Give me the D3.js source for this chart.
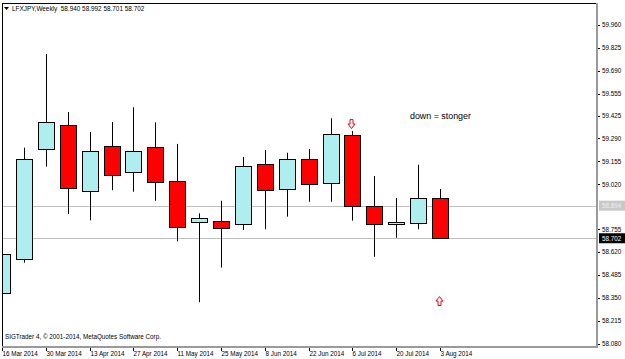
<!DOCTYPE html>
<html>
<head>
<meta charset="utf-8">
<script src="https://cdn.jsdelivr.net/npm/d3@7"></script>
<style>
  body { margin: 0; background: #fff; }
  svg { display: block; }
  text { font-family: "Liberation Sans", Arial, sans-serif; }
</style>
</head>
<body>
<svg id="chart"></svg>
<script>
// weekly bars, LFXJPY
const weeks = ["16 Mar 2014", "23 Mar 2014", "30 Mar 2014", "6 Apr 2014", "13 Apr 2014", "20 Apr 2014",
    "27 Apr 2014", "4 May 2014", "11 May 2014", "18 May 2014", "25 May 2014", "1 Jun 2014", "8 Jun 2014",
    "15 Jun 2014", "22 Jun 2014", "29 Jun 2014", "6 Jul 2014", "13 Jul 2014", "20 Jul 2014", "27 Jul 2014",
    "3 Aug 2014"];
const opens  = [58.378, 58.578, 59.226, 59.368, 58.982, 59.244, 59.091, 59.238, 59.038, 58.796, 58.806,
    58.784, 59.141, 58.991, 59.167, 59.024, 59.311, 58.892, 58.784, 58.792, 58.940];
const highs  = [58.829, 59.236, 59.788, 59.446, 59.328, 59.387, 59.474, 59.385, 59.258, 58.849, 58.923,
    59.181, 59.222, 59.206, 59.228, 59.409, 59.334, 59.069, 58.939, 59.135, 58.992];
const lows   = [58.372, 58.558, 59.124, 58.845, 58.808, 58.985, 58.976, 58.923, 58.684, 58.325, 58.529,
    58.751, 58.755, 58.829, 58.917, 58.917, 58.806, 58.593, 58.705, 58.755, 58.701];
const closes = [58.607, 59.167, 59.385, 58.996, 59.215, 59.071, 59.215, 59.032, 58.767, 58.820, 58.767,
    59.126, 58.985, 59.167, 59.020, 59.315, 58.894, 58.784, 58.796, 58.937, 58.702];

const priceTicks = [59.960, 59.825, 59.690, 59.555, 59.425, 59.290, 59.155, 59.020,
    58.755, 58.620, 58.485, 58.350, 58.215, 58.080];
const dateTickIdx = [0, 2, 4, 6, 8, 10, 12, 14, 16, 18, 20];
const hLines = [58.894, 58.702];

// arrow objects: [bar index, price, direction]
const arrows = [[16, 59.375, "down"], [20, 58.332, "up"]];

const title = "LFXJPY,Weekly  58.940 58.992 58.701 58.702";
const note = "down = stonger";
const copyright = "SIGTrader 4, \u00a9 2001-2014, MetaQuotes Software Corp.";

const W = 625, H = 359;
const frame = { left: 2, top: 3, right: 597, bottom: 347 };

const svg = d3.select("#chart").attr("width", W).attr("height", H);

const x = d3.scaleLinear().domain([0, 20]).range([2, 440]);
const y = d3.scaleLinear().domain([58.080, 59.960]).range([343.8, 24.8]);

const bars = weeks.map((w, i) => ({ w, i, o: opens[i], h: highs[i], l: lows[i], c: closes[i] }));

svg.append("defs").append("clipPath").attr("id", "plot")
    .append("rect")
    .attr("x", frame.left + 0.5).attr("y", frame.top)
    .attr("width", frame.right - frame.left - 0.5).attr("height", frame.bottom - frame.top);

const plot = svg.append("g").attr("clip-path", "url(#plot)");

// price lines
plot.selectAll("line.hl")
    .data(hLines)
    .join("line")
    .attr("class", "hl")
    .attr("x1", frame.left).attr("x2", frame.right)
    .attr("y1", d => Math.round(y(d)) + 0.5).attr("y2", d => Math.round(y(d)) + 0.5)
    .attr("stroke", "#c0c0c0").attr("stroke-width", 1);

const px = v => Math.round(v) + 0.5;

// wicks
plot.selectAll("line.wick")
    .data(bars)
    .join("line")
    .attr("class", "wick")
    .attr("x1", d => px(x(d.i))).attr("x2", d => px(x(d.i)))
    .attr("y1", d => y(d.h)).attr("y2", d => y(d.l))
    .attr("stroke", "#000").attr("stroke-width", 1);

// bodies
plot.selectAll("rect.body")
    .data(bars)
    .join("rect")
    .attr("class", "body")
    .attr("x", d => px(x(d.i)) - 8)
    .attr("width", 16)
    .attr("y", d => Math.round(y(Math.max(d.o, d.c))) + 0.5)
    .attr("height", d => Math.max(1, Math.round(Math.abs(y(d.o) - y(d.c)))))
    .attr("fill", d => d.c >= d.o ? "#afeeee" : "#ff0000")
    .attr("stroke", "#000").attr("stroke-width", 1);

// arrows
const arrowPath = (cx, cy, dir) => {
    const s = dir === "down" ? 1 : -1;
    const top = cy - 4.5 * s;
    return `M${cx - 1.5},${top} L${cx + 1.5},${top} L${cx + 1.5},${cy} L${cx + 3.5},${cy}
        L${cx},${cy + 4.5 * s} L${cx - 3.5},${cy} L${cx - 1.5},${cy} Z`;
};
plot.selectAll("path.arrow")
    .data(arrows)
    .join("path")
    .attr("class", "arrow")
    .attr("d", d => arrowPath(Math.round(x(d[0])) - 0.5, y(d[1]), d[2]))
    .attr("fill", "#fff")
    .attr("stroke", "#ff0000").attr("stroke-width", 1);

// frame
svg.append("line").attr("x1", frame.left + 0.5).attr("x2", frame.left + 0.5)
    .attr("y1", frame.top).attr("y2", frame.bottom).attr("stroke", "#000");
svg.append("line").attr("x1", frame.left).attr("x2", frame.right)
    .attr("y1", frame.top + 0.5).attr("y2", frame.top + 0.5).attr("stroke", "#000");
svg.append("line").attr("x1", frame.right).attr("x2", frame.right)
    .attr("y1", frame.top).attr("y2", frame.bottom + 1).attr("stroke", "#9a9a9a").attr("stroke-width", 2);
svg.append("line").attr("x1", frame.left).attr("x2", frame.right + 1)
    .attr("y1", frame.bottom).attr("y2", frame.bottom).attr("stroke", "#9a9a9a").attr("stroke-width", 2);

// price axis
const yAxis = svg.append("g");
yAxis.selectAll("line")
    .data(priceTicks)
    .join("line")
    .attr("x1", frame.right + 1).attr("x2", frame.right + 3)
    .attr("y1", d => px(y(d))).attr("y2", d => px(y(d)))
    .attr("stroke", "#000");
yAxis.selectAll("text")
    .data(priceTicks)
    .join("text")
    .attr("x", frame.right + 5)
    .attr("y", d => y(d) + 2.3)
    .attr("font-size", 6.3)
    .attr("fill", "#000")
    .text(d => d.toFixed(3));

// price labels (last close black, previous gray)
const tags = svg.append("g");
tags.selectAll("rect")
    .data(hLines)
    .join("rect")
    .attr("x", frame.right + 2).attr("width", 26)
    .attr("y", d => y(d) - 5).attr("height", 10)
    .attr("fill", (d, i) => i === 0 ? "#c8c8c8" : "#000");
tags.selectAll("text")
    .data(hLines)
    .join("text")
    .attr("x", frame.right + 5)
    .attr("y", d => y(d) + 2.3)
    .attr("font-size", 6.3)
    .attr("fill", (d, i) => i === 0 ? "#eeeeee" : "#fff")
    .text(d => d.toFixed(3));

// date axis
const xAxis = svg.append("g");
xAxis.selectAll("line")
    .data(dateTickIdx)
    .join("line")
    .attr("x1", d => px(x(d))).attr("x2", d => px(x(d)))
    .attr("y1", frame.bottom + 1).attr("y2", frame.bottom + 4)
    .attr("stroke", "#000");
xAxis.selectAll("text")
    .data(dateTickIdx)
    .join("text")
    .attr("x", d => Math.round(x(d)) + 0.5)
    .attr("y", 356)
    .attr("font-size", 6.3)
    .attr("fill", "#000")
    .text(d => weeks[d]);

// header & notes
svg.append("path").attr("d", "M4,7 L9,7 L6.5,10 Z").attr("fill", "#000");
svg.append("text").attr("x", 12).attr("y", 11).attr("font-size", 6.4).attr("fill", "#000")
    .attr("xml:space", "preserve").style("white-space", "pre").text(title);
svg.append("text").attr("x", 5).attr("y", 339).attr("font-size", 6.3).attr("fill", "#000").text(copyright);
svg.append("text").attr("x", 410).attr("y", 119).attr("font-size", 8.9).attr("fill", "#000").text(note);
</script>
</body>
</html>
